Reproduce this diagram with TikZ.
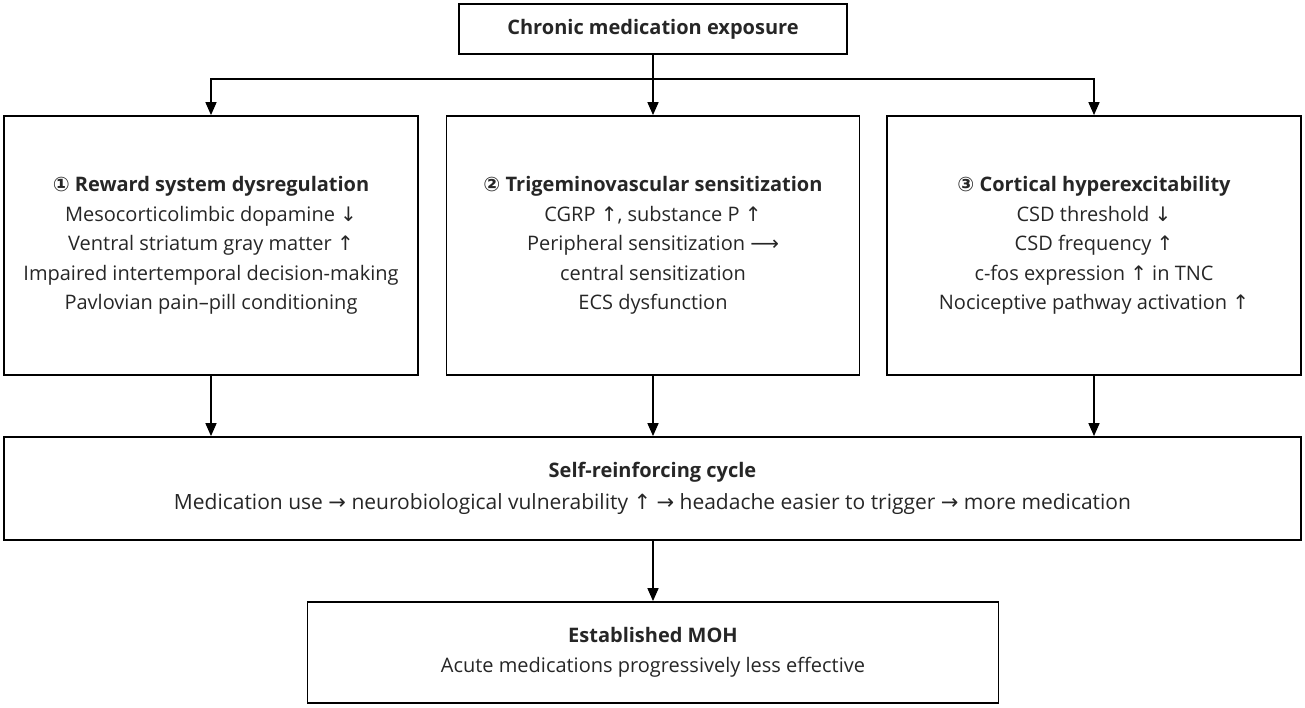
\documentclass[tikz,border=0pt]{standalone}
\usepackage{fontspec}
\setmainfont{Open Sans}
\newfontfamily\symf{DejaVu Sans}
\newcommand{\sy}[1]{{\symf #1}}
\usetikzlibrary{arrows.meta}
\begin{document}
\begin{tikzpicture}[x=1pt,y=-1pt,
  box/.style={draw=black,line width=1.8pt,inner sep=0pt,align=center,text=black!85,
    font=\fontsize{20}{29.5}\selectfont},
  arr/.style={line width=1.6pt,-{Triangle[length=13pt,width=11pt]}},
  ln/.style={line width=1.6pt}]
\useasboundingbox (0,0) rectangle (1305,707);
\node[box,minimum width=388,minimum height=50] (top) at (653,29) {\bfseries Chronic medication exposure};
\node[box,minimum width=414,minimum height=259] (b1) at (211,245.5) {{\bfseries \sy{①} Reward system dysregulation}\\
Mesocorticolimbic dopamine \sy{↓}\\
Ventral striatum gray matter \sy{↑}\\
Impaired intertemporal decision-making\\
Pavlovian pain–pill conditioning};
\node[box,minimum width=413,minimum height=259] (b2) at (653,245.5) {{\bfseries \sy{②} Trigeminovascular sensitization}\\
CGRP \sy{↑}, substance P \sy{↑}\\
Peripheral sensitization \sy{⟶}\\
central sensitization\\
ECS dysfunction};
\node[box,minimum width=414,minimum height=259] (b3) at (1094,245.5) {{\bfseries \sy{③} Cortical hyperexcitability}\\
CSD threshold \sy{↓}\\
CSD frequency \sy{↑}\\
c-fos expression \sy{↑} in TNC\\
Nociceptive pathway activation \sy{↑}};
\node[box,minimum width=1297,minimum height=103] (cyc) at (652.5,488.5) {{\bfseries Self-reinforcing cycle}\\[2pt]
{\fontsize{21}{29.5}\selectfont Medication use \sy{→} neurobiological vulnerability \sy{↑} \sy{→} headache easier to trigger \sy{→} more medication}};
\node[box,minimum width=691,minimum height=101] (moh) at (653,652.5) {{\bfseries Established MOH}\\
Acute medications progressively less effective};
\coordinate (j) at (653,79);
\draw[ln] (top.south) -- (j);
\draw[arr] (j) -| (b1.north);
\draw[arr] (j) -| (b3.north);
\draw[arr] (j) -- (b2.north);
\draw[arr] (b1.south) -- (cyc.north -| b1.south);
\draw[arr] (b2.south) -- (cyc.north -| b2.south);
\draw[arr] (b3.south) -- (cyc.north -| b3.south);
\draw[arr] (cyc.south -| moh.north) -- (moh.north);
\end{tikzpicture}
\end{document}
